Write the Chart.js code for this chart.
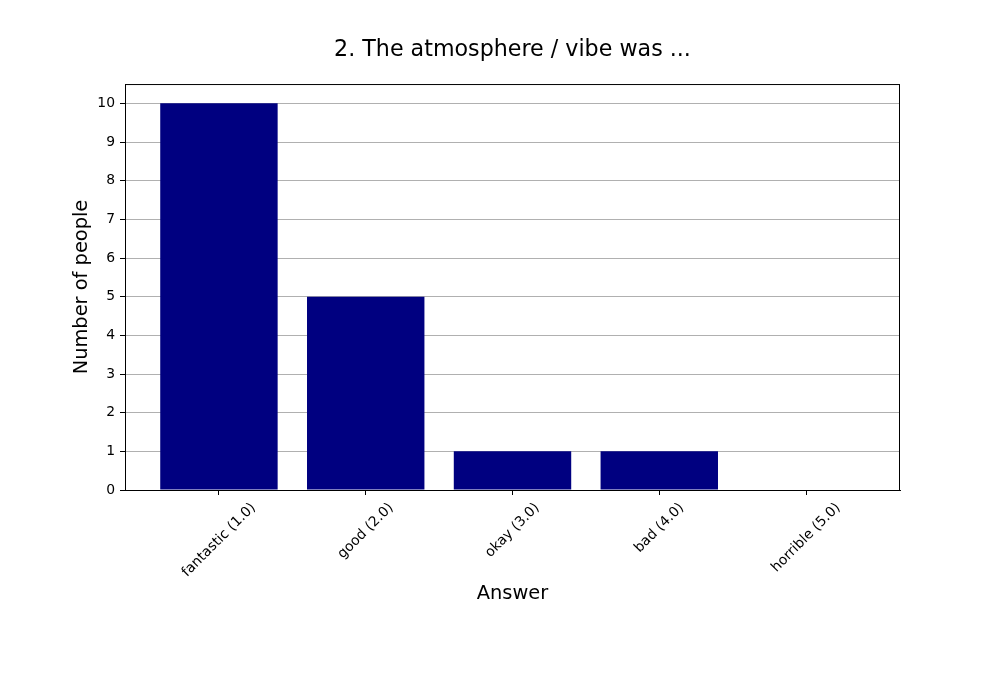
<!DOCTYPE html>
<html>
<head>
<meta charset="utf-8">
<script src="https://cdn.jsdelivr.net/npm/chart.js@4"></script>
<style>
  html, body { margin: 0; padding: 0; background: #fff; }
</style>
</head>
<body>
<canvas id="answersChart" width="1000" height="700"></canvas>
<script>
const categories = ["fantastic (1.0)", "good (2.0)", "okay (3.0)", "bad (4.0)", "horrible (5.0)"];
const counts = [10, 5, 1, 1, 0];
const yTicks = [0, 1, 2, 3, 4, 5, 6, 7, 8, 9, 10];

const FONT = "'DejaVu Sans', sans-serif";

// box round the plot area, like the matplotlib spines
const framePlugin = {
  id: "frame",
  afterDraw(chart) {
    const { ctx, chartArea } = chart;
    ctx.save();
    ctx.strokeStyle = "#000";
    ctx.lineWidth = 1;
    ctx.strokeRect(chartArea.left + 0.5, chartArea.top + 0.5,
      chartArea.right - chartArea.left - 1, chartArea.bottom - chartArea.top);
    ctx.restore();
  }
};

// x labels rotated 45deg and centred under the tick
const xLabelPlugin = {
  id: "xLabels",
  afterDraw(chart) {
    const { ctx } = chart;
    const scale = chart.scales.x;
    ctx.save();
    ctx.font = "13.9px " + FONT;
    ctx.fillStyle = "#000";
    ctx.textAlign = "center";
    ctx.textBaseline = "middle";
    const top = chart.chartArea.bottom + 5 + 4.9;
    scale.ticks.forEach((t, i) => {
      const label = categories[t.value];
      const w = ctx.measureText(label).width;
      const h = 16;
      const cx = scale.getPixelForTick(i);
      const cy = top + (w + h) * Math.SQRT1_2 / 2;
      ctx.save();
      ctx.translate(cx, cy);
      ctx.rotate(-Math.PI / 4);
      ctx.fillText(label, 0, 0);
      ctx.restore();
    });
    ctx.restore();
  }
};

const ctx = document.getElementById("answersChart");
new Chart(ctx, {
  type: "bar",
  data: {
    datasets: [{
      label: "Number of people",
      data: counts.map((v, i) => ({ x: i, y: v })),
      backgroundColor: "#000080",
      borderWidth: 0,
      barPercentage: 0.8,
      categoryPercentage: 1.0,
      yAxisID: "y"
    }]
  },
  options: {
    responsive: false,
    animation: false,
    devicePixelRatio: 1,
    layout: { padding: { left: 25, right: 0, top: 0, bottom: 0 } },
    plugins: {
      legend: { display: false },
      tooltip: { enabled: false },
      title: {
        display: true,
        text: "2. The atmosphere / vibe was ...",
        color: "#000",
        font: { family: FONT, size: 22.2, weight: "normal" },
        padding: { top: 37, bottom: 20.4 }
      }
    },
    scales: {
      x: {
        type: "linear",
        min: -0.64,
        max: 4.64,
        offset: false,
        afterBuildTicks: (scale) => {
          scale.ticks = categories.map((c, i) => ({ value: i }));
        },
        afterFit: (scale) => { scale.height = 210; },
        ticks: { display: false },
        grid: {
          offset: false,
          drawOnChartArea: false,
          drawTicks: true,
          tickLength: 5,
          tickColor: "#000",
          tickWidth: 1
        },
        border: { display: true, color: "#000", width: 1 },
        title: {
          display: true,
          text: "Answer",
          color: "#000",
          font: { family: FONT, size: 19.4 },
          padding: { top: 0, bottom: 94.4 }
        }
      },
      y: {
        min: 0,
        max: 10.5,
        afterBuildTicks: (scale) => {
          scale.ticks = yTicks.map(v => ({ value: v }));
        },
        afterFit: (scale) => { scale.width = 100; },
        ticks: {
          color: "#000",
          padding: 5,
          font: { family: FONT, size: 13.9 }
        },
        grid: {
          color: "#b0b0b0",
          lineWidth: 1,
          drawTicks: true,
          tickLength: 5,
          tickColor: "#000",
          tickWidth: 1
        },
        border: { display: true, color: "#000", width: 1 },
        title: {
          display: true,
          text: "Number of people",
          color: "#000",
          font: { family: FONT, size: 19.4 },
          padding: { top: 45.4, bottom: 0 }
        }
      },
      // empty right-hand margin so the title centres over the plot
      yRight: {
        position: "right",
        min: 0,
        max: 10.5,
        afterFit: (scale) => { scale.width = 100; },
        ticks: { display: false },
        grid: { display: false, drawTicks: false },
        border: { display: false }
      }
    }
  },
  plugins: [framePlugin, xLabelPlugin]
});
</script>
</body>
</html>
